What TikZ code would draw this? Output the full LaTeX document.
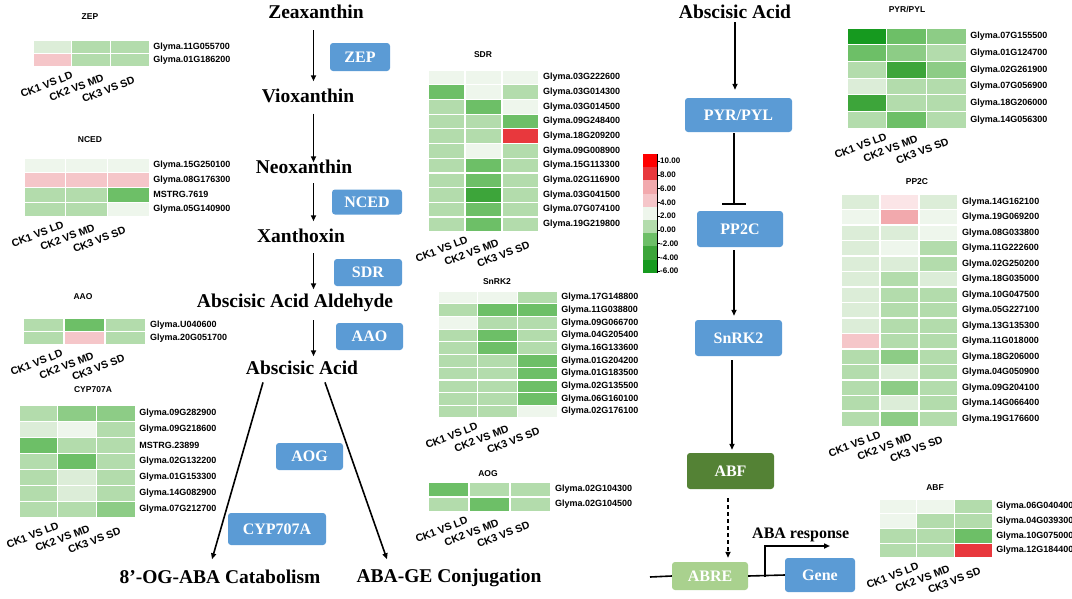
\documentclass[tikz,border=0pt]{standalone}
\usepackage{fontspec}
\setmainfont{Liberation Serif}
\newfontfamily\arialfont{Liberation Sans}
\usetikzlibrary{arrows.meta}
\usetikzlibrary{positioning}
\usetikzlibrary{calc}

% heatmap shades
\definecolor{g0}{HTML}{EEF6EC}
\definecolor{g1}{HTML}{DCEDD8}
\definecolor{g2}{HTML}{B3DCAC}
\definecolor{g3}{HTML}{8DCC86}
\definecolor{g4}{HTML}{6DBF67}
\definecolor{g5}{HTML}{3DA53A}
\definecolor{g6}{HTML}{169A1F}
\definecolor{p1}{HTML}{FBE5E7}
\definecolor{p2}{HTML}{F5C6C9}
\definecolor{p3}{HTML}{F2A9AD}
\definecolor{rd}{HTML}{E8383D}
% boxes
\definecolor{enzblue}{HTML}{5B9BD5}
\definecolor{abfgreen}{HTML}{548235}
\definecolor{abregreen}{HTML}{A9D18E}

\newcommand{\heatmap}[6]{%
  % #1 name, #2 left, #3 top, #4 cell width, #5 cell height, #6 rows
  \foreach [count=\r] \ca/\cb/\cc/\gn in {#6} {
    \foreach [count=\c] \cl in {\ca,\cb,\cc}
      \filldraw[fill=\cl, hmcell] ({#2+(\c-1)*#4},{#3+(\r-1)*#5}) rectangle ++(#4,#5);
    \node[gene] (#1-\r) at ({#2+3*#4+4},{#3+(\r-0.5)*#5}) {\gn};
    \xdef\hmrows{\r}
  }
  \foreach [count=\k from 0] \ck in {CK1 VS LD,CK2 VS MD,CK3 VS SD}
    \node[cklbl] (#1-ck\k) at ({#2+38+31*\k},{#3+\hmrows*#5+4+2.5*\k}) {\ck};
}

\begin{document}
\begin{tikzpicture}[x=1pt,y=-1pt,
  metab/.style={font=\fontsize{19.5}{22}\selectfont\bfseries, anchor=base, inner sep=0pt},
  enz/.style={fill=enzblue, rounded corners=3pt, text=white, inner sep=0pt,
    font=\fontsize{16}{18}\selectfont\bfseries},
  gene/.style={font=\arialfont\bfseries\fontsize{9}{10}\selectfont, anchor=west, inner sep=0pt},
  hmtitle/.style={font=\arialfont\bfseries\fontsize{8.5}{10}\selectfont, inner sep=0pt},
  cklbl/.style={font=\arialfont\bfseries\fontsize{10.5}{12}\selectfont, rotate=21,
    anchor=north east, inner sep=0pt},
  leglbl/.style={font=\arialfont\bfseries\fontsize{8}{9}\selectfont, anchor=west, inner sep=0pt},
  hmcell/.style={draw=white, line width=1.2pt},
  arr/.style={-{Triangle[length=6pt,width=5pt]}, line width=1.6pt,
    shorten <=10pt, shorten >=5pt}]
\useasboundingbox (0,0) rectangle (1072,598);

% left pathway
\node[metab] (zea) at (316,18) {Zeaxanthin};
\node[metab] (vio) at (308,102) {Vioxanthin};
\node[metab] (neo) at (304,173) {Neoxanthin};
\node[metab] (xan) at (301,242) {Xanthoxin};
\node[metab] (ald) at (295,307) {Abscisic Acid Aldehyde};
\node[metab] (aba) at (302,374) {Abscisic Acid};
\node[metab] (cat) at (220,583) {8'-OG-ABA Catabolism};
\node[metab] (conj) at (449,582) {ABA-GE Conjugation};

\node[enz, minimum width=60pt, minimum height=28pt] (zep) at (360,57) {ZEP};
\node[enz, minimum width=70pt, minimum height=25pt] (nced) at (367,202) {NCED};
\node[enz, minimum width=68pt, minimum height=27pt] (sdr) at (368,272.5) {SDR};
\node[enz, minimum width=67pt, minimum height=27pt] (aao) at (369.5,336.5) {AAO};
\node[enz, minimum width=67pt, minimum height=27pt] (aog) at (309.5,456.5) {AOG};
\node[enz, minimum width=98pt, minimum height=32pt] (cyp) at (277,529) {CYP707A};

\coordinate (laxis) at (313.5,0);
\draw[arr, shorten <=12pt, shorten >=7pt] (zea.south -| laxis) -- (vio.north -| laxis);
\draw[arr, shorten <=11pt, shorten >=-3pt] (vio.south -| laxis) -- (neo.north -| laxis);
\draw[arr, shorten >=7pt] (neo.south -| laxis) -- (xan.north -| laxis);
\draw[arr, shorten <=11pt, shorten >=4pt] (xan.south -| laxis) -- (ald.north -| laxis);
\draw[arr, shorten <=9pt, shorten >=4pt] (ald.south -| laxis) -- (aba.north -| laxis);
\draw[arr, shorten <=0pt, shorten >=0pt] ([xshift=-39pt,yshift=-8pt]aba.south) -- ([xshift=-8pt,yshift=10pt]cat.north);
\draw[arr, shorten <=0pt, shorten >=0pt] ([xshift=23pt,yshift=-8pt]aba.south) -- ([xshift=-62pt,yshift=9pt]conj.north);

% right pathway
\node[metab] (aba2) at (735,18) {Abscisic Acid};
\node[enz, minimum width=107pt, minimum height=34pt] (pyr) at (738.5,115) {PYR/PYL};
\node[enz, minimum width=86pt, minimum height=36pt] (pp2c) at (740,229) {PP2C};
\node[enz, minimum width=87pt, minimum height=36pt] (snrk) at (738.5,338) {SnRK2};
\node[enz, fill=abfgreen, minimum width=87pt, minimum height=36pt] (abf) at (730.5,471) {ABF};
\node[enz, fill=abregreen, minimum width=76pt, minimum height=28pt] (abre) at (710,576) {ABRE};
\node[enz, minimum width=70pt, minimum height=34pt] (gene) at (820,575) {Gene};

\coordinate (raxis) at (734,0);
\draw[arr, shorten <=4pt, shorten >=8pt] (aba2.south) -- (pyr.north -| aba2.south);
\draw[-{Bar[width=24pt]}, line width=1.6pt, shorten <=1pt, shorten >=6pt] (pyr.south -| raxis) -- (pp2c.north -| raxis);
\draw[arr, shorten <=3pt, shorten >=4pt] (pp2c.south -| raxis) -- (snrk.north -| raxis);
\draw[arr, shorten <=4pt, shorten >=3pt] ([xshift=-6.5pt]snrk.south) -- ([xshift=1.5pt]abf.north);
\draw[arr, dash pattern=on 4pt off 3pt, shorten <=9pt, shorten >=4pt] ([xshift=-2.5pt]abf.south) -- ([xshift=18pt]abre.north);

% promoter and response
\coordinate (dnaL) at (650,577);
\coordinate (tss) at (765,577);
\coordinate (respEnd) at (830,546);
\draw[line width=1.6pt] (dnaL) -- (abre.west);
\draw[line width=1.6pt] (abre.east) -- (gene.west);
\draw[-{Triangle[length=6pt,width=5pt]}, line width=1.6pt] (tss) |- (respEnd);
\node[font=\fontsize{16}{18}\selectfont\bfseries, anchor=base west, inner sep=0pt] (resp) at (752,538) {ABA response};

% heatmaps
\node[hmtitle] (zep-t) at (90,17) {ZEP};
\heatmap{zep}{33}{40}{38.7}{13.5}{g1/g2/g2/Glyma.11G055700, p2/g2/g2/Glyma.01G186200}

\node[hmtitle] (nced-t) at (90,140) {NCED};
\heatmap{nced}{24}{158}{41.7}{14.7}{g0/g0/g0/Glyma.15G250100, p2/p2/p2/Glyma.08G176300,
  g2/g2/g4/MSTRG.7619, g2/g2/g0/Glyma.05G140900}

\node[hmtitle] (aao-t) at (83,297) {AAO};
\heatmap{aao}{23}{318}{41}{13.5}{g2/g4/g2/Glyma.U040600, g2/p2/g2/Glyma.20G051700}

\node[hmtitle] (cyp-t) at (93,390) {CYP707A};
\heatmap{cyp}{19}{405}{38.7}{16.1}{g2/g3/g3/Glyma.09G282900, g1/g0/g2/Glyma.09G218600,
  g4/g2/g2/MSTRG.23899, g2/g4/g2/Glyma.02G132200, g2/g1/g2/Glyma.01G153300,
  g2/g1/g2/Glyma.14G082900, g2/g2/g3/Glyma.07G212700}

\node[hmtitle] (sdr-t) at (483,55) {SDR};
\heatmap{sdr}{428}{70}{37}{14.7}{g0/g0/g0/Glyma.03G222600, g4/g0/g2/Glyma.03G014300,
  g2/g4/g0/Glyma.03G014500, g2/g2/g4/Glyma.09G248400, g2/g2/rd/Glyma.18G209200,
  g2/g0/g2/Glyma.09G008900, g2/g4/g2/Glyma.15G113300, g2/g4/g2/Glyma.02G116900,
  g2/g5/g2/Glyma.03G041500, g2/g4/g2/Glyma.07G074100, g2/g4/g2/Glyma.19G219800}

\node[hmtitle] (snrk-t) at (497,282) {SnRK2};
\heatmap{snrk}{438}{291}{39.7}{12.7}{g0/g0/g2/Glyma.17G148800, g2/g4/g4/Glyma.11G038800,
  g0/g2/g2/Glyma.09G066700, g2/g4/g2/Glyma.04G205400, g2/g4/g2/Glyma.16G133600,
  g2/g2/g4/Glyma.01G204200, g2/g2/g4/Glyma.01G183500, g2/g2/g4/Glyma.02G135500,
  g2/g2/g4/Glyma.06G160100, g2/g2/g0/Glyma.02G176100}

\node[hmtitle] (aog-t) at (488,474) {AOG};
\heatmap{aog}{428}{482}{41}{15}{g4/g2/g2/Glyma.02G104300, g2/g4/g2/Glyma.02G104500}

\node[hmtitle] (pyr-t) at (907,10) {PYR/PYL};
\heatmap{pyr}{847}{28}{39.7}{16.7}{g6/g4/g3/Glyma.07G155500, g4/g3/g2/Glyma.01G124700,
  g2/g5/g3/Glyma.02G261900, g1/g2/g2/Glyma.07G056900, g5/g2/g2/Glyma.18G206000,
  g2/g4/g2/Glyma.14G056300}

\node[hmtitle] (pp2c-t) at (917,182) {PP2C};
\heatmap{pp2c}{841}{194}{39}{15.5}{g1/p1/g1/Glyma.14G162100, g0/p3/g0/Glyma.19G069200,
  g1/g1/g0/Glyma.08G033800, g1/g0/g2/Glyma.11G222600, g1/g1/g2/Glyma.02G250200,
  g1/g2/g1/Glyma.18G035000, g1/g2/g2/Glyma.10G047500, g1/g2/g2/Glyma.05G227100,
  g1/g2/g2/Glyma.13G135300, p2/g2/g2/Glyma.11G018000, g2/g3/g2/Glyma.18G206000,
  g2/g1/g2/Glyma.04G050900, g2/g3/g2/Glyma.09G204100, g2/g1/g2/Glyma.14G066400,
  g2/g3/g2/Glyma.19G176600}

\node[hmtitle] (abf-t) at (935,488) {ABF};
\heatmap{abf}{879}{499}{37.7}{14.75}{g0/g0/g2/Glyma.06G040400, g0/g2/g2/Glyma.04G039300,
  g2/g2/g4/Glyma.10G075000, g2/g2/rd/Glyma.12G184400}

% colour key
\foreach [count=\i from 0] \cl in {red,rd,p3,p2,g0,g2,g4,g5,g6}
  \fill[\cl] (643,{154+13.2*\i}) rectangle ++(14,13.2);
\draw[line width=0.4pt] (657,154) -- (657,273);
\foreach [count=\i from 0] \v in {10.00,8.00,6.00,4.00,2.00,0.00,-2.00,-4.00,-6.00} {
  \draw[line width=0.4pt] (657,{161+13.75*\i}) -- ++(2.5,0);
  \node[leglbl] (key\i) at (660,{161+13.75*\i}) {\v};
}
\end{tikzpicture}
\end{document}
